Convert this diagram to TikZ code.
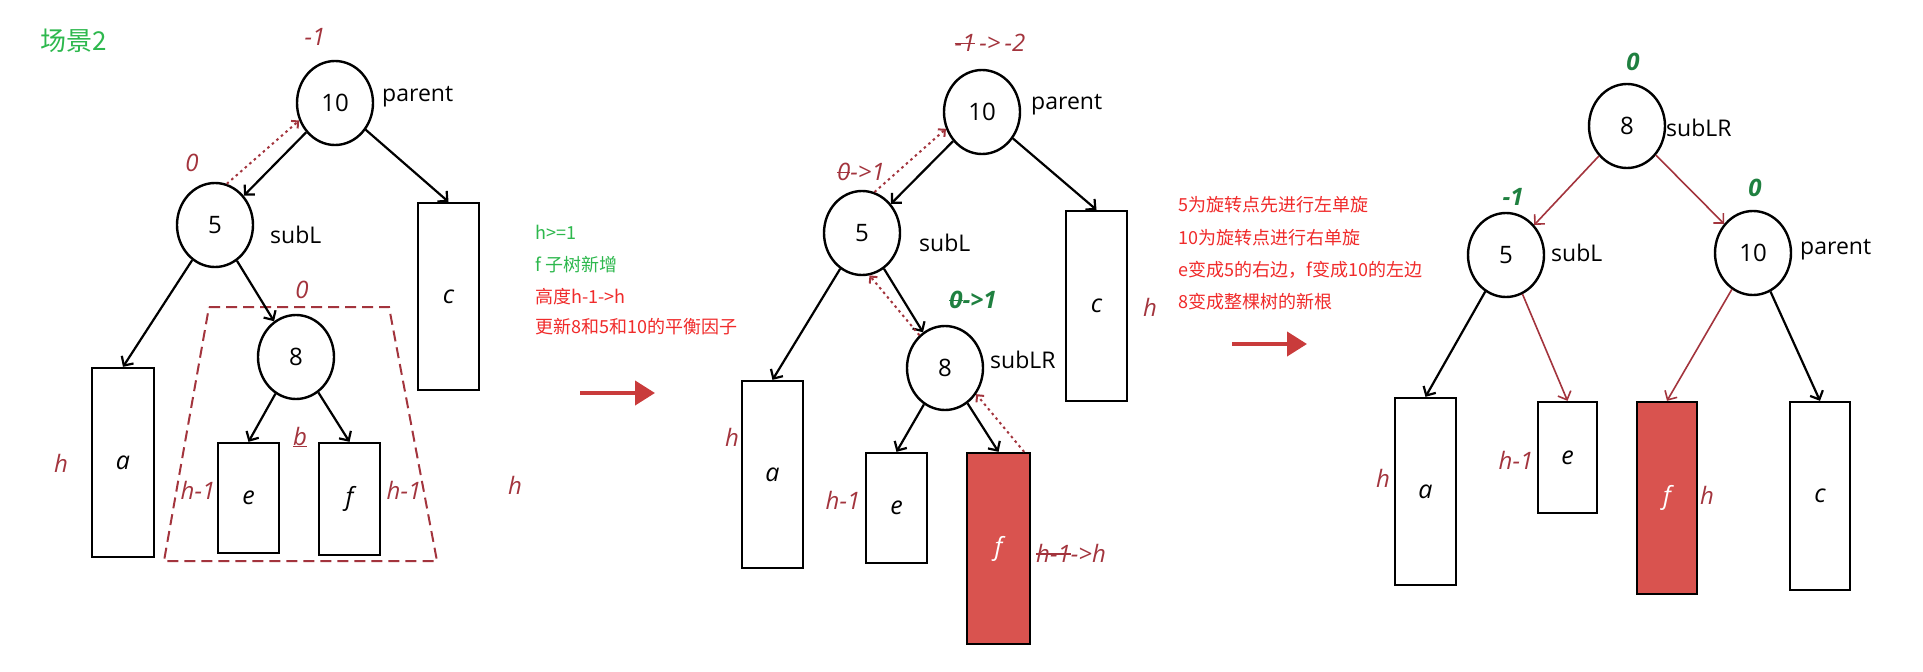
\documentclass[tikz,border=0pt]{standalone}
\usepackage{fontspec}
\setmainfont{Open Sans}
\newfontfamily\cjk{Noto Sans CJK SC}
\usetikzlibrary{arrows.meta,shapes.geometric,calc}
\definecolor{dred}{HTML}{A3343D}
\definecolor{dgreen}{HTML}{1F8040}
\definecolor{bgreen}{HTML}{2DB84D}
\definecolor{bred}{HTML}{F02B2B}
\definecolor{ffill}{HTML}{D9534F}
\definecolor{bigarrow}{HTML}{C93B3B}
\newcommand\strk[1]{\setbox0\hbox{#1}\rlap{\raisebox{0.3em}{\rule{\wd0}{0.07em}}}\box0}
\begin{document}
\begin{tikzpicture}[x=1pt,y=-1pt,
  tnode/.style={ellipse, draw, line width=2.4pt, minimum width=76pt, minimum height=84pt, inner sep=0pt, font=\fontsize{24}{24}\selectfont},
  tbox/.style={draw, line width=2.3pt, inner sep=0pt, font=\fontsize{25}{25}\selectfont\itshape},
  tag/.style={font=\fontsize{23}{23}\selectfont, anchor=west, inner sep=0pt},
  bal/.style={dred, font=\fontsize{24}{24}\selectfont\itshape, inner sep=0pt},
  gbal/.style={dgreen, font=\fontsize{24}{24}\selectfont\itshape\bfseries, inner sep=0pt},
  edgearr/.style={line width=2.2pt, -{Straight Barb[length=7pt,width=14pt]}},
  redarr/.style={dred, line width=1.6pt, -{Straight Barb[length=7pt,width=14pt]}},
  dotarr/.style={dred, line width=2pt, dash pattern=on 2.5pt off 3.5pt, -{Straight Barb[length=5pt,width=10pt]}},
  cjkg/.style={bgreen, font=\cjk\fontsize{18}{18}\selectfont, anchor=west, inner sep=0pt},
  cjkr/.style={bred, font=\cjk\fontsize{18}{18}\selectfont, anchor=west, inner sep=0pt},
  bigarr/.style={bigarrow, line width=4pt, -{Triangle[length=20pt,width=24pt]}}
]
\useasboundingbox (0,0) rectangle (1923,672);
\fill[white] (0,0) rectangle (1923,672);

% ---------- title
\node[bgreen, font=\cjk\fontsize{26}{26}\selectfont, inner sep=0pt] (title) at (74,41) {场景2};

% ---------- panel 1
\node[tnode] (p1n10) at (335,103) {10};
\node[tnode] (p1n5) at (215,225) {5};
\node[tnode] (p1n8) at (296,357) {8};
\node[tbox, minimum width=62pt, minimum height=189pt] (p1a) at (123,462.5) {a};
\node[tbox, minimum width=61pt, minimum height=110pt] (p1e) at (248.5,498) {e};
\node[tbox, minimum width=61pt, minimum height=112pt] (p1f) at (349.5,499) {f};
\node[tbox, minimum width=61pt, minimum height=187pt] (p1c) at (448.5,296.5) {c};

\node[tag] (p1parent) at (382,97) {parent};
\node[tag] (p1subL) at (270,235) {subL};
\node[bal] (p1b10) at (315,37) {-1};
\node[bal] (p1b5) at (192,163) {0};
\node[bal] (p1b8) at (302,290) {0};
\node[bal] (p1h) at (61,463) {h};
\node[bal] (p1he) at (198,490) {h-1};
\node[bal] (p1hf) at (404,490) {h-1};
\node[bal] (p1hc) at (515,485) {h};
\node[bal] (p1bb) at (300,437) {\underline{b}};

\draw[dred, line width=2pt, dash pattern=on 11pt off 6pt] (209,307) -- (389,307) -- (437,561) -- (164,561) -- cycle;

\draw[edgearr] (p1n10) -- (p1n5);
\draw[edgearr] (p1n10) -- (p1c.north);
\draw[edgearr] (p1n5) -- (p1a.north);
\draw[edgearr] (p1n5) -- (p1n8);
\draw[edgearr] (p1n8) -- (p1e.north);
\draw[edgearr] (p1n8) -- (p1f.north);
\draw[dotarr] (p1n5.74) -- (p1n10.206);

% ---------- notes 1
\node[cjkg] (t1) at (535,232) {h>=1};
\node[cjkg] (t2) at (535,265) {f 子树新增};
\node[cjkr] (t3) at (535,297) {高度h-1->h};
\node[cjkr] (t4) at (535,327) {更新8和5和10的平衡因子};
\coordinate (g1s) at (580,393);
\coordinate (g1e) at (655,393);
\draw[bigarr] (g1s) -- (g1e);

% ---------- panel 2
\node[tnode] (p2n10) at (982,112) {10};
\node[tnode] (p2n5) at (862,233) {5};
\node[tnode] (p2n8) at (945,368) {8};
\node[tbox, minimum width=61pt, minimum height=187pt] (p2a) at (772.5,474.5) {a};
\node[tbox, minimum width=61pt, minimum height=110pt] (p2e) at (896.5,508) {e};
\node[tbox, minimum width=63pt, minimum height=191pt, fill=ffill, text=white] (p2f) at (998.5,548.5) {f};
\node[tbox, minimum width=61pt, minimum height=190pt] (p2c) at (1096.5,306) {c};

\node[tag] (p2parent) at (1031,105) {parent};
\node[tag] (p2subL) at (919,243) {subL};
\node[tag] (p2subLR) at (990,360) {subLR};
\node[bal] (p2b10) at (990,43) {\strk{-1}\,->\,-2};
\node[bal] (p2b5) at (861,172) {\strk{0}->1};
\node[gbal] (p2b8) at (973,300) {\strk{0}->1};
\node[bal] (p2h) at (732,437) {h};
\node[bal] (p2he) at (843,500) {h-1};
\node[bal] (p2hf) at (1071,553) {\strk{h-1}->h};
\node[bal] (p2hc) at (1150,307) {h};

\draw[edgearr] (p2n10) -- (p2n5);
\draw[edgearr] (p2n10) -- (p2c.north);
\draw[edgearr] (p2n5) -- (p2a.north);
\draw[edgearr] (p2n5) -- (p2n8);
\draw[edgearr] (p2n8) -- (p2e.north);
\draw[edgearr] (p2n8) -- (p2f.north);
\draw[dotarr] (p2n5.73) -- (p2n10.205);
\draw[dotarr] (p2n8.128) -- (p2n5.280);
\draw[dotarr] ([xshift=-7pt]p2f.north east) -- (p2n8.-40);

% ---------- notes 2
\node[cjkr] (s1) at (1178,205) {5为旋转点先进行左单旋};
\node[cjkr] (s2) at (1178,238) {10为旋转点进行右单旋};
\node[cjkr] (s3) at (1178,270) {e变成5的右边，f变成10的左边};
\node[cjkr] (s4) at (1178,302) {8变成整棵树的新根};
\coordinate (g2s) at (1232,344);
\coordinate (g2e) at (1307,344);
\draw[bigarr] (g2s) -- (g2e);

% ---------- panel 3
\node[tnode] (p3n8) at (1627,126) {8};
\node[tnode] (p3n5) at (1506,255) {5};
\node[tnode] (p3n10) at (1753,253) {10};
\node[tbox, minimum width=61pt, minimum height=187pt] (p3a) at (1425.5,491.5) {a};
\node[tbox, minimum width=59pt, minimum height=111pt] (p3e) at (1567.5,457.5) {e};
\node[tbox, minimum width=60pt, minimum height=192pt, fill=ffill, text=white] (p3f) at (1667,498) {f};
\node[tbox, minimum width=60pt, minimum height=188pt] (p3c) at (1820,496) {c};

\node[tag] (p3subLR) at (1666,128) {subLR};
\node[tag] (p3subL) at (1551,253) {subL};
\node[tag] (p3parent) at (1800,250) {parent};
\node[gbal] (p3b8) at (1633,62) {0};
\node[gbal] (p3b5) at (1513,197) {-1};
\node[gbal] (p3b10) at (1755,188) {0};
\node[bal] (p3h) at (1383,478) {h};
\node[bal] (p3he) at (1516,460) {h-1};
\node[bal] (p3hf) at (1707,495) {h};

\draw[redarr] (p3n8) -- (p3n5);
\draw[redarr] (p3n8) -- (p3n10);
\draw[edgearr] (p3n5) -- (p3a.north);
\draw[redarr] (p3n5) -- (p3e.north);
\draw[redarr] (p3n10) -- (p3f.north);
\draw[edgearr] (p3n10) -- (p3c.north);
\end{tikzpicture}
\end{document}
